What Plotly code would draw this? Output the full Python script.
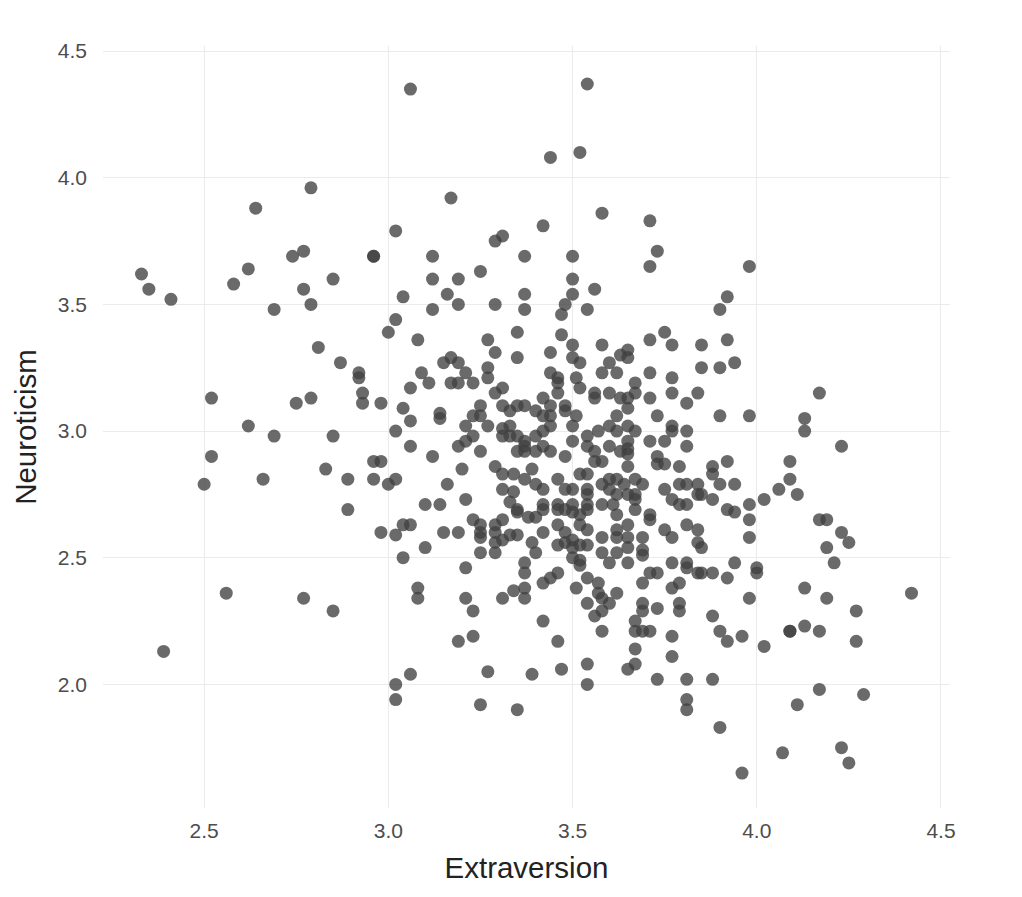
import plotly.graph_objects as go

# Extraversion (x) and Neuroticism (y) scores, grouped by region
extraversion = [
    # left
    2.33, 2.35, 2.41, 2.39, 2.50, 2.52, 2.52, 2.56, 2.58, 2.62,
    2.62, 2.64, 2.66, 2.69, 2.69, 2.74, 2.77, 2.75, 2.77, 2.79,
    2.79, 2.79, 2.77, 2.81, 2.83, 2.85, 2.85, 2.85, 2.87, 2.89,
    2.89, 2.92, 2.92, 2.93, 2.93, 2.96, 2.96, 2.96, 2.98, 2.96,
    2.98, 2.98, 3.00, 3.00,
    # top
    3.54, 3.44, 3.52, 3.06, 3.17, 3.02, 3.58, 3.71, 3.31, 3.29,
    3.42, 3.12, 3.37, 3.50, 3.73, 3.71, 3.12, 3.19, 3.25, 3.50,
    3.56, 3.16, 3.37, 3.50, 3.04, 3.98, 3.92,
    # centre-left upper
    3.19, 3.12, 3.29, 3.37, 3.48, 3.47, 3.02, 3.08, 3.35, 3.47,
    3.27, 3.29, 3.35, 3.44, 3.50, 3.50, 3.15, 3.17, 3.19, 3.09,
    3.11, 3.21, 3.27, 3.27, 3.44, 3.46, 3.17, 3.19, 3.23, 3.51,
    3.06, 3.31, 3.29, 3.46, 3.46, 3.52, 3.04, 3.14, 3.14, 3.06,
    3.25, 3.23, 3.25, 3.31, 3.33, 3.35, 3.37, 3.40, 3.42, 3.44,
    3.42, 3.44, 3.48, 3.48, 3.51, 3.02, 3.21, 3.27, 3.23, 3.31,
    3.33, 3.31, 3.33, 3.35, 3.37, 3.40, 3.42, 3.44, 3.50, 3.06,
    3.19, 3.21, 3.37, 3.42, 3.50, 3.12, 3.25, 3.35, 3.37, 3.40,
    3.44, 3.48, 3.29, 3.39, 3.20,
    # centre-right upper
    3.90, 3.54, 3.75, 3.71, 3.77, 3.85, 3.92, 3.94, 3.85, 3.90,
    3.58, 3.65, 3.63, 3.65, 3.60, 3.52, 3.58, 3.62, 3.71, 3.77,
    3.67, 3.56, 3.56, 3.60, 3.63, 3.65, 3.67, 3.71, 3.77, 3.84,
    3.81, 3.65, 3.62, 3.73, 3.90, 3.98, 3.60, 3.65, 3.62, 3.67,
    3.57, 3.77, 3.77, 3.81, 3.54, 3.54, 3.60, 3.65, 3.65, 3.71,
    3.75, 3.81, 3.56, 3.56, 3.58, 3.63, 3.65, 3.73, 3.73, 3.75,
    3.79, 3.65, 3.88, 3.92,
    # centre-left lower
    3.02, 3.16, 3.31, 3.34, 3.37, 3.40, 3.42, 3.46, 3.48, 3.50,
    3.52, 3.31, 3.34, 3.33, 3.35, 3.35, 3.38, 3.40, 3.42, 3.42,
    3.46, 3.46, 3.48, 3.50, 3.52, 3.21, 3.10, 3.14, 3.23, 3.25,
    3.25, 3.25, 3.29, 3.29, 3.31, 3.31, 3.29, 3.33, 3.35, 3.42,
    3.46, 3.48, 3.46, 3.48, 3.50, 3.50, 3.50, 3.52, 3.02, 3.04,
    3.06, 3.15, 3.19, 3.10, 3.25, 3.29, 3.39, 3.40, 3.04, 3.21,
    3.37, 3.37, 3.46, 3.44, 3.42, 3.08, 3.08, 3.34, 3.37, 3.37,
    3.31, 3.21, 3.23, 3.51, 3.42, 3.19, 3.23, 3.46,
    # centre-right lower
    3.88, 3.54, 3.58, 3.60, 3.62, 3.64, 3.67, 3.69, 3.54, 3.54,
    3.60, 3.62, 3.67, 3.67, 3.65, 3.75, 3.79, 3.81, 3.84, 3.90,
    3.94, 3.77, 3.84, 3.85, 3.88, 3.79, 3.81, 3.92, 3.94, 3.98,
    4.02, 4.06, 3.98, 3.98, 3.50, 3.54, 3.54, 3.58, 3.61, 3.67,
    3.62, 3.71, 3.71, 3.52, 3.54, 3.58, 3.62, 3.65, 3.65, 3.62,
    3.69, 3.75, 3.77, 3.81, 3.84, 3.84, 3.85, 3.52, 3.54, 3.58,
    3.62, 3.65, 3.69, 3.69, 3.52, 3.60, 3.65, 3.77, 3.81, 3.81,
    3.84, 3.85, 3.88, 3.94, 4.00, 4.00, 3.71, 3.73, 3.92, 3.54,
    3.57, 3.69, 3.79, 3.77, 3.57, 3.58, 3.62, 3.60, 3.54, 3.56,
    3.58, 3.69, 3.69, 3.73, 3.79, 3.79, 3.98, 3.88, 3.67, 3.67,
    3.69, 3.71, 3.58, 3.77, 3.90, 3.92, 3.96, 4.02, 3.67,
    # right
    4.17, 4.13, 4.13, 4.23, 4.09, 4.09, 4.11, 4.17, 4.19, 4.23, 4.25, 4.19,
    4.21, 4.13, 4.19, 4.27, 4.42, 4.09, 4.09, 4.13, 4.17, 4.27, 4.17, 4.29,
    4.11, 4.07, 4.23, 4.25,
    # bottom
    3.06, 3.02, 3.02, 3.27, 3.25, 3.35, 3.39, 3.47, 3.54, 3.54,
    3.67, 3.65, 3.77, 3.73, 3.81, 3.88, 3.81, 3.81, 3.90, 3.96,
]

neuroticism = [
    # left
    3.62, 3.56, 3.52, 2.13, 2.79, 2.90, 3.13, 2.36, 3.58, 3.64,
    3.02, 3.88, 2.81, 2.98, 3.48, 3.69, 3.71, 3.11, 3.56, 3.13,
    3.96, 3.50, 2.34, 3.33, 2.85, 3.60, 2.98, 2.29, 3.27, 2.69,
    2.81, 3.23, 3.21, 3.15, 3.11, 3.69, 3.69, 2.88, 2.88, 2.81,
    3.11, 2.60, 2.79, 3.39,
    # top
    4.37, 4.08, 4.10, 4.35, 3.92, 3.79, 3.86, 3.83, 3.77, 3.75,
    3.81, 3.69, 3.69, 3.69, 3.71, 3.65, 3.60, 3.60, 3.63, 3.60,
    3.56, 3.54, 3.54, 3.54, 3.53, 3.65, 3.53,
    # centre-left upper
    3.50, 3.48, 3.50, 3.48, 3.50, 3.46, 3.44, 3.36, 3.39, 3.38,
    3.36, 3.31, 3.29, 3.31, 3.34, 3.29, 3.27, 3.29, 3.27, 3.23,
    3.19, 3.23, 3.25, 3.21, 3.23, 3.21, 3.19, 3.19, 3.19, 3.21,
    3.17, 3.17, 3.15, 3.19, 3.15, 3.17, 3.09, 3.07, 3.05, 3.04,
    3.10, 3.06, 3.06, 3.10, 3.08, 3.10, 3.10, 3.08, 3.13, 3.10,
    3.06, 3.06, 3.10, 3.08, 3.06, 3.00, 3.02, 3.02, 2.98, 3.01,
    3.02, 2.98, 2.98, 2.98, 2.96, 2.98, 3.00, 3.02, 3.02, 2.94,
    2.94, 2.96, 2.94, 2.94, 2.96, 2.90, 2.92, 2.92, 2.92, 2.92,
    2.92, 2.90, 2.86, 2.85, 2.85,
    # centre-right upper
    3.48, 3.48, 3.39, 3.36, 3.34, 3.34, 3.36, 3.27, 3.25, 3.25,
    3.34, 3.32, 3.30, 3.29, 3.27, 3.27, 3.23, 3.23, 3.23, 3.21,
    3.19, 3.15, 3.13, 3.15, 3.13, 3.13, 3.15, 3.13, 3.15, 3.15,
    3.11, 3.09, 3.06, 3.06, 3.06, 3.06, 3.02, 3.02, 3.00, 3.00,
    3.00, 3.02, 3.00, 3.00, 2.98, 2.94, 2.94, 2.96, 2.93, 2.96,
    2.96, 2.94, 2.92, 2.88, 2.88, 2.92, 2.91, 2.90, 2.87, 2.87,
    2.86, 2.86, 2.86, 2.88,
    # centre-left lower
    2.81, 2.79, 2.83, 2.83, 2.81, 2.79, 2.77, 2.81, 2.77, 2.77,
    2.83, 2.77, 2.76, 2.72, 2.69, 2.68, 2.66, 2.66, 2.69, 2.71,
    2.71, 2.69, 2.69, 2.68, 2.67, 2.73, 2.71, 2.71, 2.65, 2.63,
    2.60, 2.58, 2.63, 2.60, 2.65, 2.57, 2.56, 2.59, 2.59, 2.60,
    2.63, 2.60, 2.55, 2.56, 2.57, 2.54, 2.50, 2.49, 2.59, 2.63,
    2.63, 2.60, 2.60, 2.54, 2.52, 2.52, 2.56, 2.52, 2.50, 2.46,
    2.48, 2.44, 2.44, 2.42, 2.40, 2.38, 2.34, 2.37, 2.38, 2.34,
    2.34, 2.34, 2.29, 2.38, 2.25, 2.17, 2.19, 2.17,
    # centre-right lower
    2.83, 2.83, 2.79, 2.81, 2.81, 2.79, 2.81, 2.79, 2.77, 2.75,
    2.77, 2.75, 2.75, 2.73, 2.75, 2.77, 2.79, 2.79, 2.79, 2.79,
    2.79, 2.73, 2.75, 2.75, 2.73, 2.71, 2.71, 2.69, 2.68, 2.71,
    2.73, 2.77, 2.65, 2.58, 2.71, 2.71, 2.69, 2.71, 2.71, 2.69,
    2.67, 2.67, 2.65, 2.63, 2.61, 2.58, 2.61, 2.63, 2.58, 2.58,
    2.58, 2.61, 2.58, 2.63, 2.61, 2.56, 2.54, 2.55, 2.55, 2.52,
    2.52, 2.54, 2.53, 2.51, 2.47, 2.48, 2.48, 2.48, 2.48, 2.46,
    2.44, 2.44, 2.44, 2.48, 2.46, 2.44, 2.44, 2.44, 2.42, 2.42,
    2.40, 2.40, 2.40, 2.38, 2.36, 2.34, 2.36, 2.32, 2.32, 2.27,
    2.29, 2.32, 2.29, 2.30, 2.32, 2.29, 2.34, 2.27, 2.25, 2.21,
    2.21, 2.21, 2.21, 2.19, 2.21, 2.17, 2.19, 2.15, 2.14,
    # right
    3.15, 3.05, 3.00, 2.94, 2.88, 2.81, 2.75, 2.65, 2.65, 2.60, 2.56, 2.54,
    2.48, 2.38, 2.34, 2.29, 2.36, 2.21, 2.21, 2.23, 2.21, 2.17, 1.98, 1.96,
    1.92, 1.73, 1.75, 1.69,
    # bottom
    2.04, 2.00, 1.94, 2.05, 1.92, 1.90, 2.04, 2.06, 2.08, 2.00,
    2.08, 2.06, 2.11, 2.02, 2.02, 2.02, 1.94, 1.90, 1.83, 1.65,
]

assert len(extraversion) == len(neuroticism), (len(extraversion), len(neuroticism))

x_ticks = [2.5, 3.0, 3.5, 4.0, 4.5]
x_tick_labels = ["2.5", "3.0", "3.5", "4.0", "4.5"]
y_ticks = [2.0, 2.5, 3.0, 3.5, 4.0, 4.5]
y_tick_labels = ["2.0", "2.5", "3.0", "3.5", "4.0", "4.5"]

FONT = "Liberation Sans, Arial, Helvetica, sans-serif"

fig = go.Figure(
    go.Scatter(
        x=extraversion,
        y=neuroticism,
        mode="markers",
        marker=dict(size=13, color="rgba(64,64,64,0.78)", line=dict(width=0)),
        hoverinfo="skip",
    )
)

fig.update_layout(
    width=1022,
    height=897,
    paper_bgcolor="white",
    plot_bgcolor="white",
    margin=dict(l=95, r=80, t=38, b=97),
    showlegend=False,
    font=dict(family=FONT),
    xaxis=dict(
        range=[2.2255, 4.5245],
        tickmode="array",
        tickvals=x_ticks,
        ticktext=x_tick_labels,
        showgrid=True,
        gridcolor="#ebebeb",
        gridwidth=1.2,
        zeroline=False,
        showline=False,
        ticks="",
        tickfont=dict(size=21, color="#4d4d4d", family=FONT),
        ticklabelstandoff=8,
        title=dict(text="Extraversion", font=dict(size=29.5, color="#222222", family=FONT), standoff=16),
    ),
    yaxis=dict(
        range=[1.512, 4.52],
        tickmode="array",
        tickvals=y_ticks,
        ticktext=y_tick_labels,
        showgrid=True,
        gridcolor="#ebebeb",
        gridwidth=1.2,
        zeroline=False,
        showline=False,
        ticks="",
        tickfont=dict(size=21, color="#4d4d4d", family=FONT),
        ticklabelstandoff=15,
        title=dict(text="Neuroticism", font=dict(size=29.5, color="#222222", family=FONT), standoff=12),
    ),
)

fig.write_html("out.html", config={"displayModeBar": False})
